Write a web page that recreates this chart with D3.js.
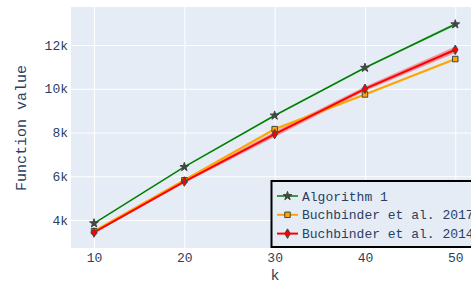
<!DOCTYPE html>
<html><head><meta charset="utf-8">
<script src="https://cdn.jsdelivr.net/npm/d3@7"></script>
<style>body{margin:0;background:#fff}svg{display:block}</style>
</head><body>
<svg id="c" width="471" height="288"></svg>
<script>
const ks = [10, 20, 30, 40, 50];
const seriesNames = ["Algorithm 1", "Buchbinder et al. 2017", "Buchbinder et al. 2014"];
const alg1 = [3850, 6426, 8778, 10961, 12950];
const alg1Lo = [3835, 6405, 8750, 10925, 12880];
const alg1Hi = [3865, 6445, 8805, 10995, 13020];
const b2017 = [3490, 5820, 8155, 9740, 11360];
const b2017Lo = [3440, 5760, 8090, 9700, 11320];
const b2017Hi = [3530, 5880, 8220, 9780, 11400];
const b2014 = [3430, 5760, 7927, 10000, 11785];
const b2014Lo = [3390, 5690, 7800, 9900, 11640];
const b2014Hi = [3470, 5830, 8050, 10100, 11930];
const yTicks = [4000, 6000, 8000, 10000, 12000];
const yTickLabels = ["4k", "6k", "8k", "10k", "12k"];
const xTicks = [10, 20, 30, 40, 50];

const font = "'Liberation Mono','Courier New',monospace";
const txt = "#2a3f5f";
const svg = d3.select("#c");
const x = d3.scaleLinear().domain([7.45, 51.74]).range([71, 471]);
const y = d3.scaleLinear().domain([2720, 13740]).range([248, 7]);

svg.append("rect").attr("x", 71).attr("y", 7).attr("width", 400).attr("height", 241).attr("fill", "#e5ecf6");
svg.append("defs").append("clipPath").attr("id", "clip").append("rect")
  .attr("x", 71).attr("y", 7).attr("width", 400).attr("height", 241);

const gy = svg.append("g").attr("transform", "translate(71,0)")
  .call(d3.axisLeft(y).tickValues(yTicks).tickSize(-400).tickFormat((d, i) => yTickLabels[i]).tickPadding(3));
gy.select(".domain").remove();
gy.selectAll("line").attr("stroke", "#fff").attr("stroke-width", 1);
gy.selectAll("text").attr("font-family", font).attr("font-size", 13).attr("fill", txt);

const gx = svg.append("g").attr("transform", "translate(0,248)")
  .call(d3.axisBottom(x).tickValues(xTicks).tickSize(241).tickFormat(d3.format("d")));
gx.select(".domain").remove();
gx.selectAll("line").attr("stroke", "#fff").attr("stroke-width", 1).attr("transform", "translate(0,-241)");
gx.selectAll("text").attr("font-family", font).attr("font-size", 13).attr("fill", txt)
  .attr("y", 0).attr("dy", "0.71em").attr("transform", "translate(0,5)");

svg.append("text").attr("x", 275).attr("y", 280).attr("text-anchor", "middle")
  .attr("font-family", font).attr("font-size", 15).attr("fill", txt).text("k");
svg.append("text").attr("transform", "translate(26,128) rotate(-90)").attr("text-anchor", "middle")
  .attr("font-family", font).attr("font-size", 15).attr("fill", txt).text("Function value");

const plot = svg.append("g").attr("clip-path", "url(#clip)");
const series = [
  {v: alg1, lo: alg1Lo, hi: alg1Hi, color: "green", band: "rgba(0,128,0,0.3)", w: 1.5, sym: d3.symbolStar, size: 24, fill: "#404a40"},
  {v: b2017, lo: b2017Lo, hi: b2017Hi, color: "orange", band: "rgba(255,165,0,0.4)", w: 2, sym: d3.symbolSquare, size: 30, fill: "orange"},
  {v: b2014, lo: b2014Lo, hi: b2014Hi, color: "red", band: "rgba(255,0,0,0.35)", w: 2, sym: d3.symbolDiamond, size: 26, fill: "red"}
];
const area = d3.area().x((d, i) => x(ks[i])).y0(d => y(d[0])).y1(d => y(d[1]));
const line = d3.line().x((d, i) => x(ks[i])).y(d => y(d));
series.forEach(s => {
  plot.append("path").attr("d", area(s.lo.map((l, i) => [l, s.hi[i]]))).attr("fill", s.band);
});
series.forEach(s => {
  plot.append("path").attr("d", line(s.v)).attr("fill", "none").attr("stroke", s.color).attr("stroke-width", s.w);
});
series.forEach(s => {
  plot.selectAll(null).data(s.v).enter().append("path")
    .attr("transform", (d, i) => `translate(${x(ks[i])},${y(d)})`)
    .attr("d", d3.symbol().type(s.sym).size(s.size))
    .attr("fill", s.fill).attr("stroke", "#444").attr("stroke-width", 1);
});

const lg = svg.append("g");
lg.append("rect").attr("x", 271.5).attr("y", 181).attr("width", 210).attr("height", 66)
  .attr("fill", "#e5ecf6").attr("stroke", "#000").attr("stroke-width", 2);
series.forEach((s, i) => {
  const yy = 196 + i * 18.8;
  lg.append("line").attr("x1", 277).attr("x2", 298).attr("y1", yy).attr("y2", yy)
    .attr("stroke", s.color).attr("stroke-width", s.w);
  lg.append("path").attr("transform", `translate(287.5,${yy})`)
    .attr("d", d3.symbol().type(s.sym).size(s.size)).attr("fill", s.fill).attr("stroke", "#444").attr("stroke-width", 1);
  lg.append("text").attr("x", 302).attr("y", yy).attr("dy", "0.35em")
    .attr("font-family", font).attr("font-size", 13).attr("fill", txt).text(seriesNames[i]);
});
</script>
</body></html>
